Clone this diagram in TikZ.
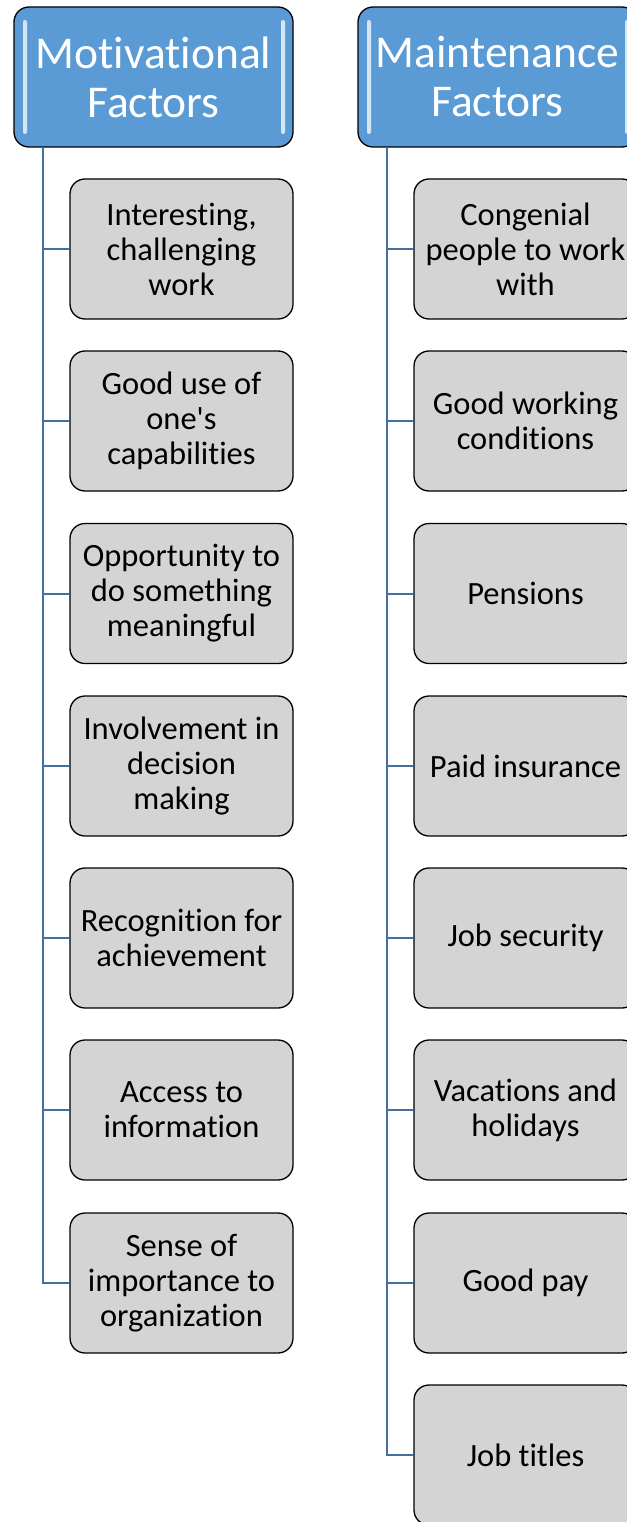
\documentclass[tikz,border=0pt]{standalone}
\usepackage{fontspec}
\setmainfont{Carlito}[Ligatures={TeXOff,NoCommon}]
\usepackage{tikz}

\definecolor{headblue}{HTML}{5B9BD5}
\definecolor{linkblue}{HTML}{41719C}
\definecolor{boxgray}{HTML}{D4D4D4}

\begin{document}
\begin{tikzpicture}[x=1pt, y=-1pt,
        header/.style={draw=black, line width=1.3pt, fill=headblue, rounded corners=15pt,
            minimum width=279pt, minimum height=140pt, inner sep=0pt, align=center,
            text=white, font=\fontsize{45.5}{49}\selectfont},
        factor/.style={draw=black, line width=1.3pt, fill=boxgray, rounded corners=15pt,
            minimum width=223pt, minimum height=140pt, inner sep=0pt, align=center,
            font=\fontsize{32.5}{35}\selectfont},
        gloss/.style={fill=white, opacity=0.75, rounded corners=2pt},
        link/.style={draw=linkblue, line width=2pt}]
        \useasboundingbox (0,0) rectangle (626,1522);

        \coordinate (A) at (153.5,77);
        \coordinate (B) at (497.5,77);
        \coordinate (C) at (43,147);
        \coordinate (D) at (387,147);

        \node[header] (mot) at (A) {Motivational\\Factors};
        \node[header] (main) at (B) {Maintenance\\Factors};

        % gloss strips on the headers
        \fill[gloss] (23,20) rectangle (27,134);
        \fill[gloss] (281,20) rectangle (285,134);
        \fill[gloss] (367,20) rectangle (371,134);
        \fill[gloss] (625,20) rectangle (629,134);

        \node[factor] (m1) at (181.5,249) {Interesting,\\challenging\\work};
        \node[factor] (m2) at (181.5,421) {Good use of\\one's\\capabilities};
        \node[factor] (m3) at (181.5,593.5) {Opportunity to\\do something\\meaningful};
        \node[factor] (m4) at (181.5,766) {Involvement in\\decision\\making};
        \node[factor] (m5) at (181.5,938) {Recognition for\\achievement};
        \node[factor] (m6) at (181.5,1110) {Access to\\information};
        \node[factor] (m7) at (181.5,1283) {Sense of\\importance to\\organization};

        \node[factor] (k1) at (525.5,249) {Congenial\\people to work\\with};
        \node[factor] (k2) at (525.5,421) {Good working\\conditions};
        \node[factor] (k3) at (525.5,593.5) {Pensions};
        \node[factor] (k4) at (525.5,766) {Paid insurance};
        \node[factor] (k5) at (525.5,938) {Job security};
        \node[factor] (k6) at (525.5,1110) {Vacations and\\holidays};
        \node[factor] (k7) at (525.5,1283) {Good pay};
        \node[factor] (k8) at (525.5,1455) {Job titles};

        \draw[link] (C) |- (m1.west);
        \draw[link] (C) |- (m2.west);
        \draw[link] (C) |- (m3.west);
        \draw[link] (C) |- (m4.west);
        \draw[link] (C) |- (m5.west);
        \draw[link] (C) |- (m6.west);
        \draw[link] (C) |- (m7.west);

        \draw[link] (D) |- (k1.west);
        \draw[link] (D) |- (k2.west);
        \draw[link] (D) |- (k3.west);
        \draw[link] (D) |- (k4.west);
        \draw[link] (D) |- (k5.west);
        \draw[link] (D) |- (k6.west);
        \draw[link] (D) |- (k7.west);
        \draw[link] (D) |- (k8.west);

    \end{tikzpicture}
\end{document}
